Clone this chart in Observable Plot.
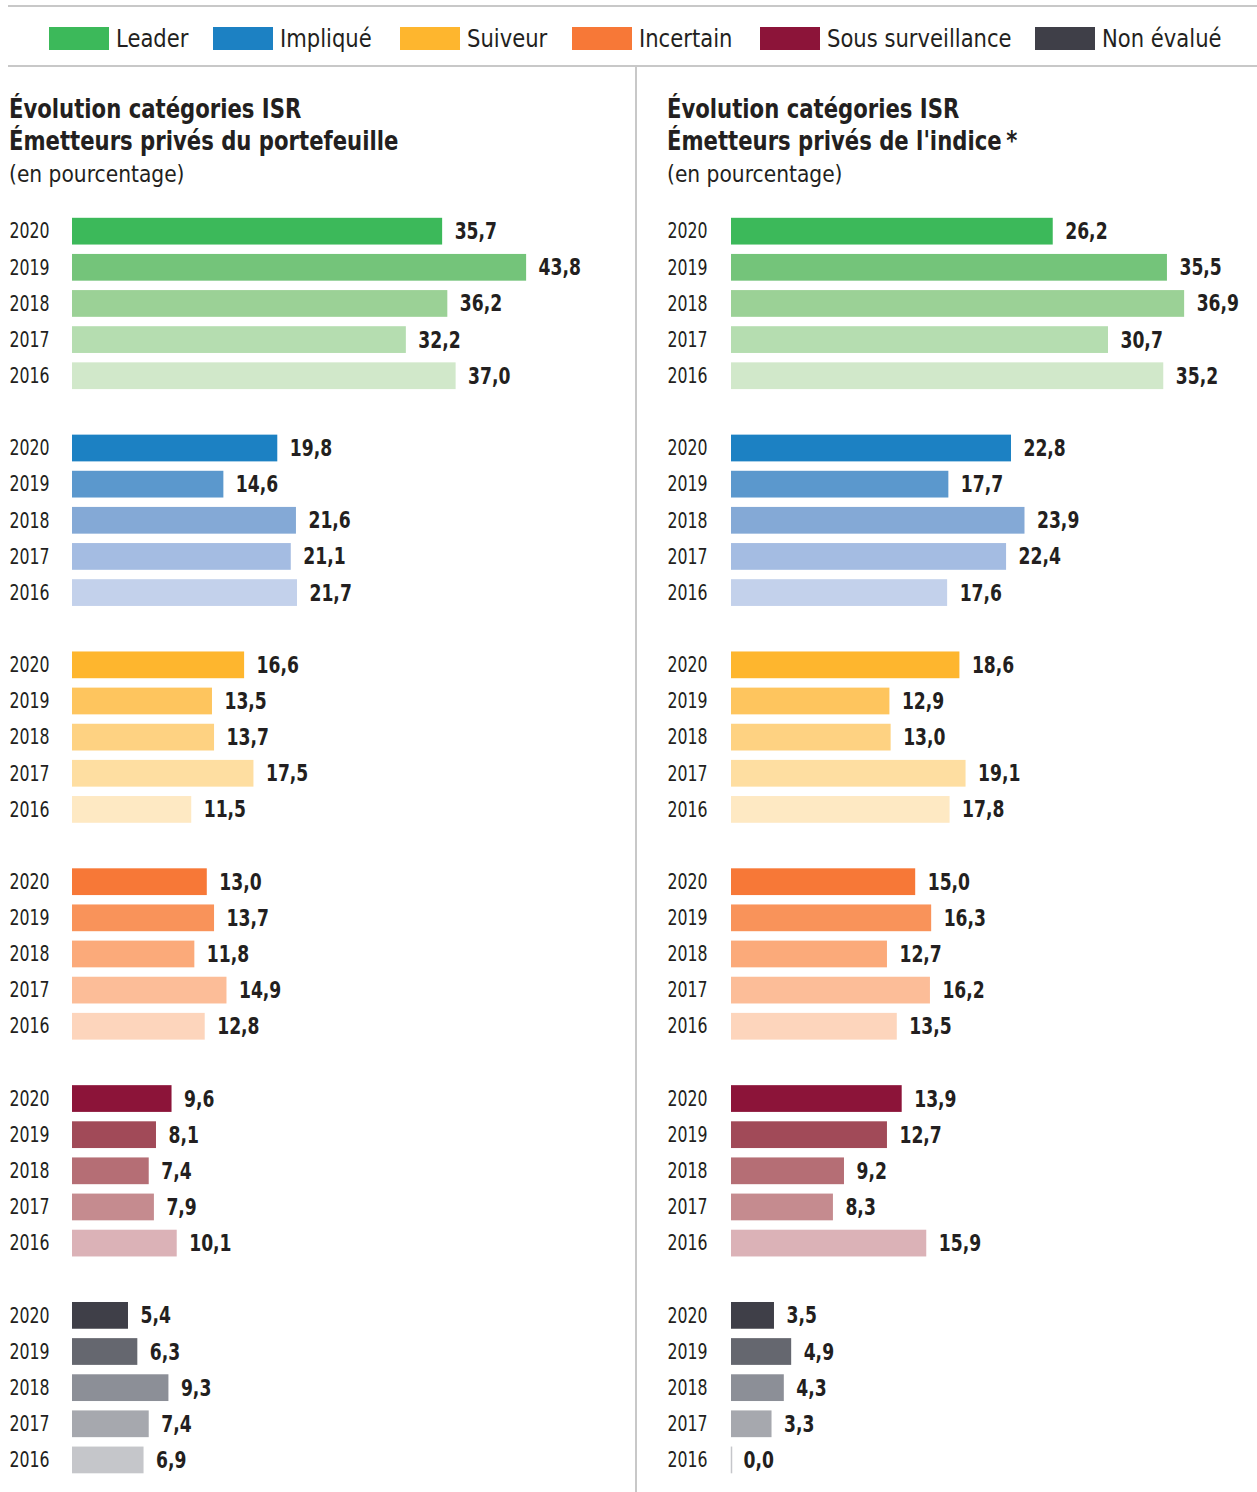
<!DOCTYPE html>
<html>
<head>
<meta charset="utf-8">
<script src="https://cdn.jsdelivr.net/npm/d3@7"></script>
<script src="https://cdn.jsdelivr.net/npm/@observablehq/plot@0.6"></script>
<style>
  html, body { margin: 0; padding: 0; background: #fff; }
  body { width: 1257px; height: 1492px; position: relative; overflow: hidden;
         font-family: "DejaVu Sans", sans-serif; color: #231f20; }
  .hline { position: absolute; height: 2px; background: #c8c8c8; }
  .vline { position: absolute; width: 2px; background: #c8c8c8; }
  .sw { position: absolute; width: 60px; height: 23px; top: 27px; }
  .lt { position: absolute; top: 23px; font-size: 25px; line-height: 32px; white-space: nowrap;
        transform: scaleX(0.845); transform-origin: 0 50%; }
  .title { position: absolute; font-weight: bold; font-size: 27px; line-height: 32px; top: 93px; white-space: nowrap; }
  .title span.l { display: inline-block; transform: scaleX(0.785); transform-origin: 0 50%; }
  .sub { position: absolute; font-size: 23px; line-height: 32px; top: 158px; white-space: nowrap;
         transform: scaleX(0.88); transform-origin: 0 50%; }
  .panel { position: absolute; top: 200px; }
</style>
</head>
<body>
<div class="hline" style="left:8px; right:0; top:5px;"></div>
<div class="hline" style="left:8px; right:0; top:65px;"></div>
<div class="vline" style="left:635px; top:66px; bottom:0;"></div>
<div id="legend"></div>
<div class="title" style="left:9px;"><span class="l">Évolution catégories ISR</span><br><span class="l">Émetteurs privés du portefeuille</span></div>
<div class="sub" style="left:9px;">(en pourcentage)</div>
<div class="title" style="left:667px;"><span class="l">Évolution catégories ISR</span><br><span class="l">Émetteurs privés de l'indice<span style="margin-left:6px">*</span></span></div>
<div class="sub" style="left:667px;">(en pourcentage)</div>
<div id="left" class="panel" style="left:0px;"></div>
<div id="right" class="panel" style="left:636px;"></div>
<script>
const categories = ["Leader", "Impliqué", "Suiveur", "Incertain", "Sous surveillance", "Non évalué"];
const years = ["2020", "2019", "2018", "2017", "2016"];

// values per category, in the order of years (2020 … 2016)
const portefeuille = [
  [35.7, 43.8, 36.2, 32.2, 37.0],
  [19.8, 14.6, 21.6, 21.1, 21.7],
  [16.6, 13.5, 13.7, 17.5, 11.5],
  [13.0, 13.7, 11.8, 14.9, 12.8],
  [9.6, 8.1, 7.4, 7.9, 10.1],
  [5.4, 6.3, 9.3, 7.4, 6.9]
];
const indice = [
  [26.2, 35.5, 36.9, 30.7, 35.2],
  [22.8, 17.7, 23.9, 22.4, 17.6],
  [18.6, 12.9, 13.0, 19.1, 17.8],
  [15.0, 16.3, 12.7, 16.2, 13.5],
  [13.9, 12.7, 9.2, 8.3, 15.9],
  [3.5, 4.9, 4.3, 3.3, 0.0]
];
const shades = [
  ["#3cb95a", "#74c47a", "#9bd196", "#b5ddb0", "#d1e8ca"],
  ["#1c81c3", "#5b98cd", "#84a9d6", "#a4bce2", "#c3d1eb"],
  ["#feb62e", "#fec55e", "#fed282", "#fedea1", "#fee9c3"],
  ["#f77837", "#f9935a", "#fbaa7a", "#fcbd98", "#fdd5bc"],
  ["#8c1439", "#a14a58", "#b56e75", "#c58b8f", "#dbb2b7"],
  ["#3f3f48", "#65676f", "#8c8f97", "#a6a8ae", "#c5c6ca"]
];

// Legend
const legendSw = [49, 213, 400, 572, 760, 1035];
const legendEl = document.getElementById("legend");
categories.forEach((c, i) => {
  const s = document.createElement("div");
  s.className = "sw"; s.style.left = legendSw[i] + "px"; s.style.background = shades[i][0];
  legendEl.appendChild(s);
  const t = document.createElement("div");
  t.className = "lt"; t.style.left = (legendSw[i] + 67) + "px"; t.textContent = c;
  legendEl.appendChild(t);
});

const fmt = v => v.toFixed(1).replace(".", ",");

function build(values) {
  const rows = [];
  categories.forEach((c, i) => {
    years.forEach((y, j) => rows.push({key: c + "|" + y, cat: c, year: y, value: values[i][j], color: shades[i][j]}));
  });
  return rows;
}
const domainKeys = [];
categories.forEach((c, i) => {
  years.forEach(y => domainKeys.push(c + "|" + y));
  if (i < categories.length - 1) domainKeys.push(c + "|gap");
});

function panel(values, opts) {
  const data = build(values);
  return Plot.plot({
    width: opts.width,
    height: 1292,
    marginLeft: opts.marginLeft,
    marginRight: opts.marginRight,
    marginTop: 8.4,
    marginBottom: 9.3,
    style: {fontFamily: "'DejaVu Sans', sans-serif", background: "transparent", color: "#231f20"},
    x: {domain: [0, opts.max], axis: null},
    y: {domain: domainKeys, padding: 0.26, round: false, axis: null},
    color: {type: "identity"},
    marks: [
      Plot.barX(data, {x: "value", y: "key", fill: "color"}),
      Plot.tickX(data.filter(d => d.value === 0), {x: "value", y: "key", stroke: "color", strokeWidth: 1.5}),
      Plot.text(data, {y: "key", text: "year", frameAnchor: "left", dx: opts.yearDx, textAnchor: "start", fontSize: 21, fill: "#231f20"}),
      Plot.text(data, {x: "value", y: "key", text: d => fmt(d.value), dx: 12, textAnchor: "start", fontSize: 23.5, fontWeight: "bold", fill: "#231f20"})
    ]
  });
}

function condense(svg) {
  svg.querySelectorAll("g[aria-label='text']").forEach(g => {
    const bold = g.getAttribute("font-weight") === "bold";
    const f = bold ? 0.73 : 0.75;
    g.querySelectorAll("text").forEach(t => {
      const w = t.getComputedTextLength();
      t.setAttribute("textLength", (w * f).toFixed(2));
      t.setAttribute("lengthAdjust", "spacingAndGlyphs");
    });
  });
}

const leftSvg = panel(portefeuille, {width: 636, marginLeft: 72, marginRight: 45.6, max: 50, yearDx: -63});
document.getElementById("left").appendChild(leftSvg);
condense(leftSvg);
const rightSvg = panel(indice, {width: 621, marginLeft: 95, marginRight: 34.8, max: 40, yearDx: -64});
document.getElementById("right").appendChild(rightSvg);
condense(rightSvg);
</script>
</body>
</html>
